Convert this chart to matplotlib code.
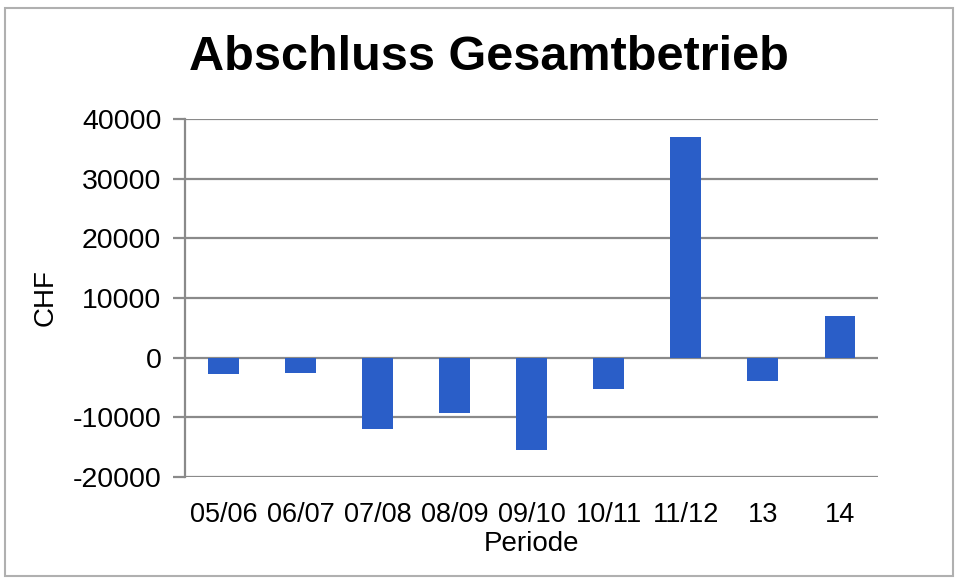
import matplotlib.pyplot as plt
from matplotlib.patches import Rectangle

plt.rcParams['font.family'] = ['Liberation Sans', 'DejaVu Sans']

perioden = ["05/06", "06/07", "07/08", "08/09", "09/10", "10/11", "11/12", "13", "14"]
abschluss = [-2700, -2600, -11900, -9350, -15500, -5250, 37000, -4000, 6950]
y_ticks = [-20000, -10000, 0, 10000, 20000, 30000, 40000]

fig = plt.figure(figsize=(9.58, 5.78), dpi=100)
ax = fig.add_axes([0.193, 0.175, 0.724, 0.619])

x = range(len(perioden))
ax.bar(x, abschluss, width=0.4, color="#2a5ec8", zorder=3)

ax.set_ylim(-20000, 40000)
ax.set_xlim(-0.5, len(perioden) - 0.5)
ax.set_yticks(y_ticks)
ax.set_yticklabels([str(t) for t in y_ticks], fontsize=20.5)
ax.set_xticks(list(x))
ax.set_xticklabels(perioden, fontsize=19.5)
ax.tick_params(axis='x', length=0, pad=18)
ax.tick_params(axis='y', length=9, width=1.6, color="#8a8a8a", pad=8)
ax.grid(axis='y', color="#8a8a8a", linewidth=1.6, zorder=0)

for side in ["top", "right", "bottom"]:
    ax.spines[side].set_visible(False)
ax.spines["left"].set_color("#8a8a8a")
ax.spines["left"].set_linewidth(1.6)

ax.set_ylabel("CHF", fontsize=20, labelpad=10)
ax.set_xlabel("Periode", fontsize=20, labelpad=2)
fig.text(0.51, 0.9, "Abschluss Gesamtbetrieb", fontsize=35, fontweight="bold",
         ha="center", va="center")

# grey frame round the chart
fig.patches.append(Rectangle((0.005, 0.004), 0.99, 0.982, transform=fig.transFigure,
                             fill=False, edgecolor="#b0b0b0", linewidth=1.5))

fig.savefig("out.png", dpi=100)
